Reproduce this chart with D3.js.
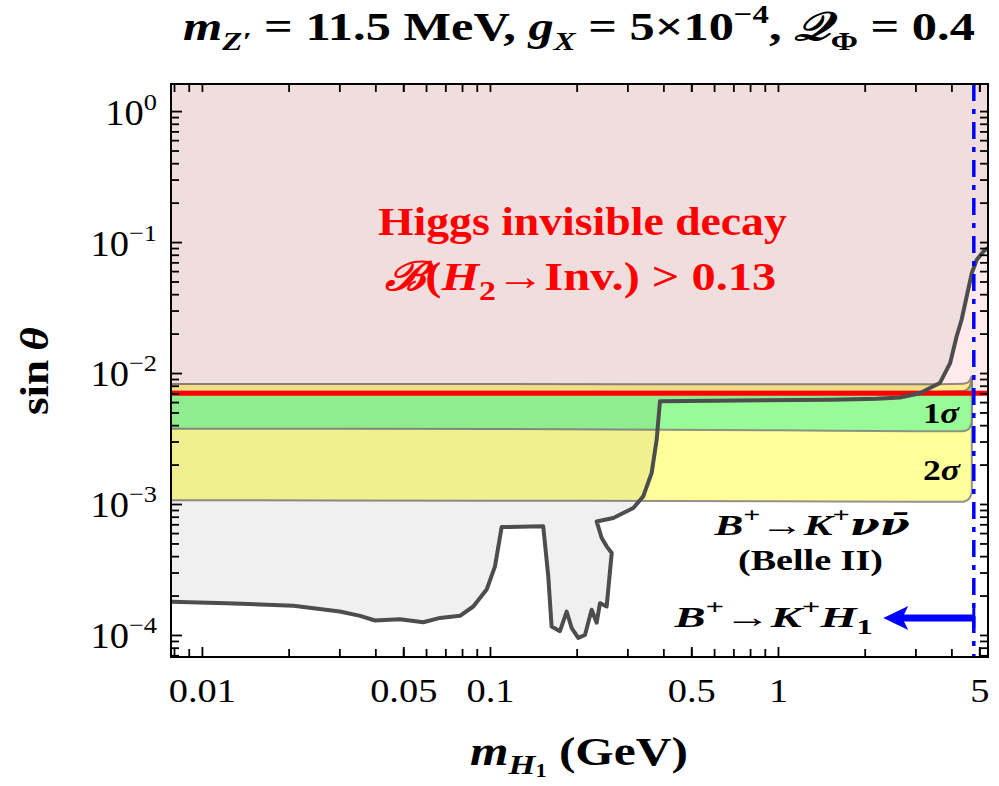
<!DOCTYPE html>
<meta charset="utf-8">
<style>
body { margin: 0; background: #fff; }
svg text { font-family: "Liberation Serif", "DejaVu Serif", serif; }
.tick line { stroke: #000; stroke-width: 1.8px; }
</style>
<body>
<script src="https://d3js.org/d3.v7.min.js"></script>
<script>

// Belle II B+ -> K+ nu nubar bands, on a grid of H1 masses (GeV)
var bandMass   = [0.00781, 0.1,     1,       3,       4.38,    4.57,    4.64,    4.71];
var band2sLow  = [1.07e-3, 1.06e-3, 1.05e-3, 1.04e-3, 1.04e-3, 1.08e-3, 1.12e-3, 1.22e-3];
var band2sHigh = [8.25e-3, 8.25e-3, 8.2e-3,  8.2e-3,  8.3e-3,  8.5e-3,  8.8e-3,  9.5e-3];
var band1sLow  = [3.76e-3, 3.74e-3, 3.66e-3, 3.6e-3,  3.6e-3,  3.7e-3,  3.85e-3, 4.2e-3];
var band1sHigh = [7.2e-3,  7.2e-3,  7.2e-3,  7.2e-3,  7.3e-3,  7.6e-3,  8.0e-3,  8.8e-3];

// boundary of the B+ -> K+ H1 excluded region (region above the curve)
var curveMass = [0.00781, 0.0122, 0.0208, 0.0301, 0.0354, 0.0399, 0.0487, 0.0587, 0.0671,
  0.0787, 0.0875, 0.0974, 0.1041, 0.1098, 0.1531, 0.1594, 0.1637, 0.175, 0.1846, 0.1922,
  0.2026, 0.2138, 0.2254, 0.2347, 0.2410, 0.2542, 0.2647, 0.2542, 0.2443, 0.2347, 0.2681,
  0.3146, 0.3405, 0.3642, 0.3792, 0.3894, 0.60, 1.55, 2.2, 2.65, 3.11, 3.45, 3.65, 3.96,
  4.17, 4.34, 4.52, 4.71, 4.90, 5.16, 5.36];
var curveSin = [1.79e-4, 1.75e-4, 1.67e-4, 1.51e-4, 1.40e-4, 1.29e-4, 1.32e-4, 1.25e-4, 1.35e-4,
  1.40e-4, 1.65e-4, 2.22e-4, 3.34e-4, 6.67e-4, 6.75e-4, 2.80e-4, 1.16e-4, 1.07e-4, 1.51e-4, 1.13e-4,
  9.5e-5, 1.0e-4, 1.56e-4, 1.24e-4, 1.75e-4, 1.65e-4, 4.23e-4, 4.75e-4, 5.50e-4, 7.36e-4, 7.82e-4,
  9.32e-4, 1.143e-3, 1.724e-3, 3.10e-3, 6.1e-3, 6.15e-3, 6.25e-3, 6.35e-3, 6.5e-3, 7.0e-3, 7.9e-3, 8.4e-3, 1.19e-2,
  1.90e-2, 2.55e-2, 3.84e-2, 5.80e-2, 7.33e-2, 8.45e-2, 9.05e-2];

var higgsInvLimit = 0.007;   // B(H2 -> Inv.) > 0.13
var kinLimit = 4.785;        // m_B - m_K
var arrowSin = 1.35e-4, arrowTip = 2.32;

var xLabelTicks = [0.01, 0.05, 0.1, 0.5, 1, 5];
var yLabelTicks = [1, 0.1, 0.01, 1e-3, 1e-4];
var yLabelExp = ["0", "\u22121", "\u22122", "\u22123", "\u22124"];

var xMinorTicks = [0.008, 0.009];
for (var d = 0.01; d < 10; d *= 10)
  for (var k = 2; k <= 9; k++) if (k * d < 5.36) xMinorTicks.push(k * d);
var yMinorTicks = [];
for (var e = -5; e <= -1; e++)
  for (var k = 2; k <= 9; k++) yMinorTicks.push(k * Math.pow(10, e));
yMinorTicks = yMinorTicks.filter(v => v > 6.79e-5);

var width = 999, height = 786;

var x = d3.scaleLog().domain([0.00781, 5.36]).range([171, 988]);
var y = d3.scaleLog().domain([6.79e-5, 1.61]).range([657, 84]);

var svg = d3.select("body").append("svg")
    .attr("width", width)
    .attr("height", height);

svg.append("rect").attr("width", width).attr("height", height).attr("fill", "#fff");

svg.append("clipPath").attr("id", "clip")
  .append("rect")
    .attr("x", x.range()[0]).attr("y", y.range()[1])
    .attr("width", x.range()[1] - x.range()[0])
    .attr("height", y.range()[0] - y.range()[1]);

var plot = svg.append("g").attr("clip-path", "url(#clip)");

// grey excluded region from B+ -> K+ H1
var pts = curveMass.map((m, i) => [x(m), y(curveSin[i])]);
var line = d3.line();
plot.append("path")
    .attr("d", line(pts) + "L" + x.range()[1] + "," + y.range()[1] + "L" + x.range()[0] + "," + y.range()[1] + "Z")
    .attr("fill", "#f0f0f0");

// Belle II bands, multiplied over the grey so the overlap shows darker
var idx = d3.range(bandMass.length);
var bands = plot.append("g").style("mix-blend-mode", "multiply");
var band = (lo, hi) => d3.area()
    .x(i => x(bandMass[i]))
    .y0(i => y(lo[i]))
    .y1(i => y(hi[i]))
    .curve(d3.curveMonotoneX)(idx);

bands.append("path")
    .attr("d", band(band2sLow, band2sHigh))
    .attr("fill", "#ffff99")
    .attr("stroke", "#7f7f7f").attr("stroke-width", 2).attr("stroke-opacity", 0.85);
bands.append("path")
    .attr("d", band(band1sLow, band1sHigh))
    .attr("fill", "#98fb98")
    .attr("stroke", "#7f7f7f").attr("stroke-width", 2).attr("stroke-opacity", 0.85);

// Higgs invisible decay region
plot.append("rect")
    .attr("x", x.range()[0]).attr("y", y.range()[1])
    .attr("width", x.range()[1] - x.range()[0])
    .attr("height", y(higgsInvLimit) - y.range()[1])
    .attr("fill", "#ffebeb")
    .style("mix-blend-mode", "multiply");

plot.append("line")
    .attr("x1", x.range()[0]).attr("x2", x.range()[1])
    .attr("y1", y(higgsInvLimit)).attr("y2", y(higgsInvLimit))
    .attr("stroke", "#ff0000").attr("stroke-width", 5);

plot.append("path")
    .attr("d", line(pts))
    .attr("fill", "none")
    .attr("stroke", "#4d4d4d")
    .attr("stroke-width", 4)
    .attr("stroke-linejoin", "round");

// kinematic limit
plot.append("line")
    .attr("x1", x(kinLimit)).attr("x2", x(kinLimit))
    .attr("y1", y.range()[1]).attr("y2", y.range()[0])
    .attr("stroke", "#0000ff").attr("stroke-width", 3.5)
    .attr("stroke-dasharray", "17,8,5,8");

var ax = x(kinLimit), at = x(arrowTip), ay = y(arrowSin);
svg.append("line")
    .attr("x1", ax).attr("x2", at + 18)
    .attr("y1", ay).attr("y2", ay)
    .attr("stroke", "#0000ff").attr("stroke-width", 7);
svg.append("path")
    .attr("d", `M${at},${ay}L${at + 25},${ay - 12}L${at + 19},${ay}L${at + 25},${ay + 12}Z`)
    .attr("fill", "#0000ff");
svg.append("line")
    .attr("x1", ax).attr("x2", ax)
    .attr("y1", ay - 10).attr("y2", ay + 10)
    .attr("stroke", "#0000ff").attr("stroke-width", 3);

// axes, ticks pointing inward on all four sides
function clean(g, size) {
  g.select(".domain").remove();
  g.attr("font-family", null).attr("font-size", size || null);
}
svg.append("g").attr("transform", "translate(0," + y.range()[0] + ")")
    .call(d3.axisBottom(x).tickValues(xMinorTicks).tickSize(-8).tickFormat(""))
    .call(clean);
svg.append("g").attr("transform", "translate(0," + y.range()[0] + ")")
    .call(d3.axisBottom(x).tickValues(xLabelTicks).tickSize(-10).tickPadding(21).tickFormat(d => String(d)))
    .call(clean, 34)
  .selectAll(".tick text")
    .attr("transform", "scale(1.13,1)");
svg.append("g").attr("transform", "translate(0," + y.range()[1] + ")")
    .call(d3.axisTop(x).tickValues(xMinorTicks.concat(xLabelTicks)).tickSize(-8).tickFormat(""))
    .call(clean);

svg.append("g").attr("transform", "translate(" + x.range()[0] + ",0)")
    .call(d3.axisLeft(y).tickValues(yMinorTicks).tickSize(-8).tickFormat(""))
    .call(clean);
var yAxis = svg.append("g").attr("transform", "translate(" + x.range()[0] + ",0)")
    .call(d3.axisLeft(y).tickValues(yLabelTicks).tickSize(-11).tickPadding(14).tickFormat(""))
    .call(clean, 35);
yAxis.selectAll(".tick text")
    .attr("x", 0)
    .attr("transform", "translate(-14,0) scale(1.1,1)")
    .attr("dy", "0.37em")
  .each(function(d, i) {
    var t = d3.select(this);
    t.append("tspan").text("10");
    t.append("tspan").attr("dy", -15).attr("font-size", 24).text(yLabelExp[i]);
  });
svg.append("g").attr("transform", "translate(" + x.range()[1] + ",0)")
    .call(d3.axisRight(y).tickValues(yMinorTicks.concat(yLabelTicks)).tickSize(-8).tickFormat(""))
    .call(clean);

svg.append("rect")
    .attr("x", x.range()[0]).attr("y", y.range()[1])
    .attr("width", x.range()[1] - x.range()[0])
    .attr("height", y.range()[0] - y.range()[1])
    .attr("fill", "none").attr("stroke", "#000").attr("stroke-width", 2);

// math-ish text out of tspans
function rich(sel, parts, size) {
  var cur = 0;
  parts.forEach(function(p) {
    var sh = (p.sh || 0) * size;
    sel.append("tspan")
      .attr("dy", sh - cur)
      .attr("font-size", (p.sz || 1) * size)
      .attr("font-style", p.it ? "italic" : null)
      .style("font-family", p.ff || null)
      .text(p.t);
    cur = sh;
  });
  return sel;
}
// stretch a text horizontally so it spans x0..x1 (the TeX fonts are wide)
function fitTo(sel, x0, x1) {
  var bb = sel.node().getBBox();
  var s = (x1 - x0) / bb.width;
  sel.attr("transform", "translate(" + x0 + ",0) scale(" + s + ",1) translate(" + (-bb.x) + ",0)");
}
function label(parent, parts, size, base, x0, x1, color) {
  var t = parent.append("text")
      .attr("y", base)
      .attr("font-weight", "bold")
      .attr("fill", color || "#000");
  rich(t, parts, size);
  fitTo(t, x0, x1);
  return t;
}

var SUB = 0.25, SUP = -0.42;

label(svg, [{t: "m", it: 1}, {t: "Z\u2032", it: 1, sh: SUB, sz: 0.65}, {t: " = 11.5 MeV, "},
  {t: "g", it: 1}, {t: "X", it: 1, sh: SUB, sz: 0.65}, {t: " = 5\u00d710"}, {t: "\u22124", sh: SUP, sz: 0.65},
  {t: ", "}, {t: "\ud835\udcac", it: 1}, {t: "\u03a6", sh: SUB, sz: 0.65}, {t: " = 0.4"}],
  40, 40, 183, 975);

label(svg, [{t: "m", it: 1}, {t: "H", it: 1, sh: 0.22, sz: 0.7}, {t: "1", sh: 0.3, sz: 0.45}, {t: " (GeV)"}],
  40, 765, 470, 688);

var yl = svg.append("g").attr("transform", "translate(48,371) rotate(-90)");
label(yl, [{t: "sin\u2009"}, {t: "\u03b8", it: 1}], 40, 0, -44, 44);

label(svg, [{t: "Higgs invisible decay"}], 40, 235, 378, 787, "#ff0000");
label(svg, [{t: "\u212c", it: 1}, {t: "("}, {t: "H", it: 1}, {t: "2", sh: SUB, sz: 0.7},
  {t: "\u2192"}, {t: "Inv.) > 0.13"}], 40, 290, 385, 777, "#ff0000");

label(svg, [{t: "1"}, {t: "\u03c3", it: 1}], 30, 423, 923, 960);
label(svg, [{t: "2"}, {t: "\u03c3", it: 1}], 30, 480, 923, 961);

label(svg, [{t: "B", it: 1}, {t: "+", sh: SUP, sz: 0.7}, {t: "\u2192"}, {t: "K", it: 1},
  {t: "+", sh: SUP, sz: 0.7}, {t: "\u03bd\u03bd\u0304", it: 1, ff: "DejaVu Serif"}], 30, 535, 713, 910);
label(svg, [{t: "(Belle II)"}], 30, 570, 738, 883);
label(svg, [{t: "B", it: 1}, {t: "+", sh: SUP, sz: 0.7}, {t: "\u2192"}, {t: "K", it: 1},
  {t: "+", sh: SUP, sz: 0.7}, {t: "H", it: 1}, {t: "1", sh: SUB, sz: 0.7}], 30, 627, 673, 873);

</script>
</body>
